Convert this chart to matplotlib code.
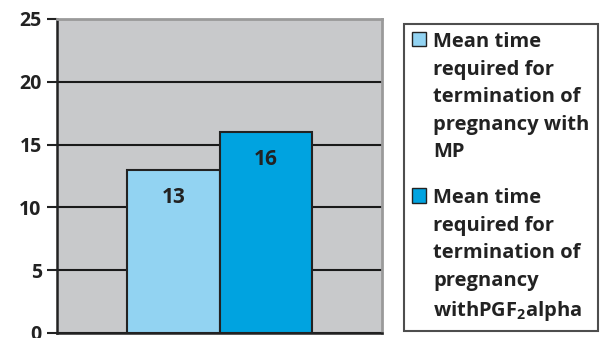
import matplotlib.pyplot as plt
import numpy as np

plt.rcParams['font.family'] = ['Open Sans', 'DejaVu Sans']
plt.rcParams['font.weight'] = 'bold'
plt.rcParams['mathtext.fontset'] = 'custom'
plt.rcParams['mathtext.bf'] = 'Open Sans:bold'
plt.rcParams['mathtext.rm'] = 'Open Sans:bold'
plt.rcParams['mathtext.default'] = 'bf'

labels = ['Mean time\nrequired for\ntermination of\npregnancy with\nMP',
          'Mean time\nrequired for\ntermination of\npregnancy\nwith$\\mathregular{PGF_2}$alpha']
values = [13, 16]
colors = ['#92d3f2', '#00a3e0']
yticks = [0, 5, 10, 15, 20, 25]

fig = plt.figure(figsize=(6, 3.38), dpi=100)
ax = fig.add_axes([0.095, 0.0148, 0.542, 0.929])
ax.set_facecolor('#c8c9cb')

xs = np.array([-0.5, 0.5])
bars = ax.bar(xs, values, width=1, color=colors, edgecolor='#222222',
              linewidth=1.5, zorder=3, label=labels)
for x, v in zip(xs, values):
    ax.annotate(str(v), (x, v), xytext=(0, -20), textcoords='offset points',
                ha='center', va='center', fontsize=15, fontweight='bold',
                color='#222222', zorder=4)

ax.set_xlim(-1.757, 1.757)
ax.set_ylim(0, 25)
ax.set_yticks(yticks)
ax.set_xticks([])
ax.yaxis.grid(True, color='#1a1a1a', linewidth=1.5, zorder=1)
ax.set_axisbelow(True)
ax.tick_params(axis='y', length=7, width=1.5, color='#222222',
               labelsize=14, pad=4, labelcolor='#222222')
for lab in ax.get_yticklabels():
    lab.set_fontweight('bold')
ax.spines['left'].set_color('#222222')
ax.spines['left'].set_linewidth(1.8)
ax.spines['bottom'].set_color('#222222')
ax.spines['bottom'].set_linewidth(1.8)
ax.spines['top'].set_color('#9a9a9a')
ax.spines['top'].set_linewidth(2)
ax.spines['right'].set_color('#9a9a9a')
ax.spines['right'].set_linewidth(2)

leg = fig.legend(handles=bars.patches, labels=labels, loc='upper left',
                 bbox_to_anchor=(0.673, 0.929), borderaxespad=0, frameon=True,
                 fancybox=False, edgecolor='#222222', handlelength=0.72,
                 handleheight=0.72, handletextpad=0.35, labelspacing=1.3,
                 borderpad=0.4, prop={'weight': 'bold', 'size': 14.5})
leg.get_frame().set_linewidth(1.5)
for t in leg.get_texts():
    t.set_color('#222222')
    t.set_linespacing(1.5)
for h in leg.legend_handles:
    h.set_linewidth(1)
# put the colour squares beside the first line of each entry
for col in leg._legend_handle_box.get_children():
    for row in col.get_children():
        row.align = 'top'

fig.savefig('out.png', dpi=100)
